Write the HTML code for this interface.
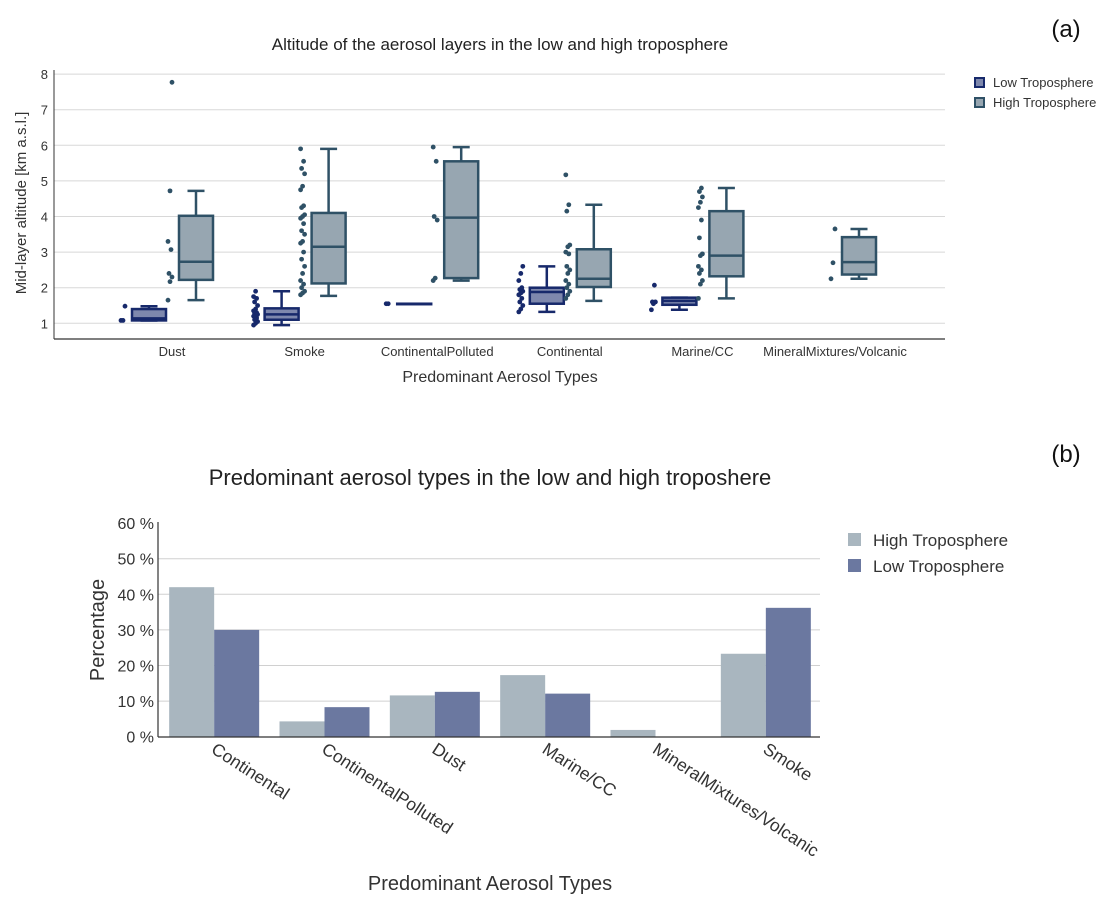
<!DOCTYPE html>
<html><head><meta charset="utf-8"><style>
body{margin:0;background:#fff;}
svg{display:block;font-family:"Liberation Sans",sans-serif;}
</style></head><body>
<svg id="s" width="1118" height="910" viewBox="0 0 1118 910">
<text x="1066" y="37" font-size="24" fill="#111" text-anchor="middle">(a)</text>
<text x="1066" y="462" font-size="24" fill="#111" text-anchor="middle">(b)</text>
<g id="top"></g>
<g id="bot"></g>
</svg>
<script>
// ---------- Chart (a) data ----------
const boxCats = ["Dust","Smoke","ContinentalPolluted","Continental","Marine/CC","MineralMixtures/Volcanic"];
const yTicksA = [1,2,3,4,5,6,7,8];
// [min,q1,median,q3,max] or null
const lowStats = [[1.08,1.08,1.14,1.4,1.48],[0.95,1.1,1.25,1.42,1.9],[1.55,1.55,1.55,1.55,1.55],[1.32,1.55,1.88,2.0,2.6],[1.38,1.52,1.63,1.72,1.72],null];
const highStats = [[1.65,2.22,2.73,4.02,4.72],[1.77,2.12,3.15,4.1,5.9],[2.2,2.27,3.97,5.55,5.95],[1.63,2.02,2.25,3.08,4.33],[1.7,2.32,2.9,4.15,4.8],[2.25,2.37,2.72,3.42,3.65]];
const lowPts = [[1.08,1.08,1.48],[0.95,1.0,1.05,1.1,1.15,1.2,1.22,1.25,1.28,1.3,1.35,1.4,1.5,1.6,1.7,1.75,1.9],[1.55,1.55],[1.32,1.4,1.5,1.6,1.7,1.8,1.85,1.9,1.95,2.0,2.2,2.4,2.6],[1.38,1.55,1.6,1.6,2.07],[]];
const highPts = [[1.65,2.17,2.3,2.4,3.07,3.3,4.72,7.77],[1.8,1.85,1.9,2.0,2.1,2.2,2.4,2.6,2.8,3.0,3.25,3.3,3.5,3.6,3.8,3.95,4.0,4.05,4.25,4.3,4.75,4.85,5.2,5.35,5.55,5.9],[2.2,2.27,3.9,4.0,5.55,5.95],[1.7,1.8,1.9,2.0,2.1,2.2,2.4,2.5,2.6,2.95,3.0,3.15,3.2,4.15,4.33,5.17],[1.7,2.1,2.2,2.4,2.5,2.6,2.9,2.95,3.4,3.9,4.25,4.4,4.55,4.7,4.8],[2.25,2.7,3.65]];

// ---------- Chart (b) data ----------
const barCats = ["Continental","ContinentalPolluted","Dust","Marine/CC","MineralMixtures/Volcanic","Smoke"];
const highVals = [42,4.3,11.6,17.3,1.9,23.3];
const lowVals = [30,8.3,12.6,12.1,0,36.2];
const yTicksB = [0,10,20,30,40,50,60];

const NS="http://www.w3.org/2000/svg";
function mk(p,tag,at,txt){const e=document.createElementNS(NS,tag);for(const k in at)e.setAttribute(k,at[k]);if(txt!==undefined)e.textContent=txt;p.appendChild(e);return e;}

// ---------- draw (a) ----------
const T=document.getElementById('top');
const ax0=54, ax1=945;
const yA=v=>323.3-(v-1)*35.6;
const xA=i=>172+132.6*i;
let t=mk(T,'text',{x:500,y:50,'font-size':17,fill:'#222','text-anchor':'middle'},'Altitude of the aerosol layers in the low and high troposphere');

yTicksA.forEach(v=>{
  let g=mk(T,'line',{x1:ax0,x2:ax1,y1:yA(v),y2:yA(v),stroke:'#d8d8d8','stroke-width':1});
  
  let l=mk(T,'text',{x:ax0-6,y:yA(v)+5,'font-size':13,fill:'#333','text-anchor':'end'},v);
  
});
let a1=mk(T,'line',{x1:ax0,x2:ax0,y1:70,y2:339,stroke:'#333','stroke-width':1});

let a2=mk(T,'line',{x1:ax0,x2:ax1,y1:339,y2:339,stroke:'#333','stroke-width':1.2});

boxCats.forEach((c,i)=>{
  let l=mk(T,'text',{x:xA(i),y:356,'font-size':13,fill:'#333','text-anchor':'middle'},c);
  
});
t=mk(T,'text',{x:500,y:382,'font-size':16,fill:'#333','text-anchor':'middle'},'Predominant Aerosol Types');

t=mk(T,'text',{x:0,y:0,'font-size':15,fill:'#333','text-anchor':'middle',transform:'translate(26,203) rotate(-90)'},'Mid-layer altitude [km a.s.l.]');


function drawBox(st,pts,cx,fill,stroke,name){
  const g=mk(T,'g',{});
  
  const w=34,h=w/2;
  if(st){
    const [mn,q1,md,q3,mx]=st;
    mk(g,'line',{x1:cx,x2:cx,y1:yA(mx),y2:yA(q3),stroke:stroke,'stroke-width':2.5});
    mk(g,'line',{x1:cx,x2:cx,y1:yA(q1),y2:yA(mn),stroke:stroke,'stroke-width':2.5});
    mk(g,'line',{x1:cx-h/2,x2:cx+h/2,y1:yA(mx),y2:yA(mx),stroke:stroke,'stroke-width':2.5});
    mk(g,'line',{x1:cx-h/2,x2:cx+h/2,y1:yA(mn),y2:yA(mn),stroke:stroke,'stroke-width':2.5});
    mk(g,'rect',{x:cx-h,y:yA(q3),width:w,height:Math.max(yA(q1)-yA(q3),0.5),fill:fill,stroke:stroke,'stroke-width':2.5});
    mk(g,'line',{x1:cx-h,x2:cx+h,y1:yA(md),y2:yA(md),stroke:stroke,'stroke-width':2.5});
  }
  pts.forEach((v,k)=>{
    const jx=cx-h-9+((k*7)%5)-2;
    let p=mk(g,'circle',{cx:jx,cy:yA(v),r:2.4,fill:stroke});
    
  });
}
boxCats.forEach((c,i)=>{
  drawBox(lowStats[i],lowPts[i],xA(i)-23,'#7e88ad','#17296b','low-box-'+i);
  drawBox(highStats[i],highPts[i],xA(i)+24,'#97a6b1','#2f5166','high-box-'+i);
});
[['Low Troposphere','#7e88ad','#17296b',83],['High Troposphere','#97a6b1','#2f5166',103]].forEach(d=>{
  const g=mk(T,'g',{});
  
  mk(g,'rect',{x:975,y:d[3]-5,width:9,height:9,fill:d[1],stroke:d[2],'stroke-width':2});
  mk(g,'text',{x:993,y:d[3]+4,'font-size':13,fill:'#333'},d[0]);
});

// ---------- draw (b) ----------
const B=document.getElementById('bot');
const bx0=158,bx1=820;
const yB=v=>736.7-v*3.56;
const bw=(bx1-bx0)/6;
const xB=i=>bx0+bw*(i+0.5);
t=mk(B,'text',{x:490,y:485,'font-size':22,fill:'#222','text-anchor':'middle'},'Predominant aerosol types in the low and high troposhere');

yTicksB.forEach(v=>{
  if(v>0&&v<60){let g=mk(B,'line',{x1:bx0,x2:bx1,y1:yB(v),y2:yB(v),stroke:'#d0d0d0','stroke-width':1});
  }
  let l=mk(B,'text',{x:bx0-4,y:yB(v)+6,'font-size':16,fill:'#333','text-anchor':'end'},v+' %');
  
});
barCats.forEach((c,i)=>{
  let r=mk(B,'rect',{x:xB(i)-44,y:yB(highVals[i]),width:45,height:yB(0)-yB(highVals[i]),fill:'#a9b6bf'});
  
  r=mk(B,'rect',{x:xB(i)+1,y:yB(lowVals[i]),width:45,height:yB(0)-yB(lowVals[i]),fill:'#6b78a0'});
  
  let l=mk(B,'text',{x:0,y:0,'font-size':17.5,fill:'#333',transform:'translate('+(xB(i)-3)+',752) rotate(33)'},c);
  
});
a1=mk(B,'line',{x1:bx0,x2:bx0,y1:522,y2:737,stroke:'#333','stroke-width':1.2});

a2=mk(B,'line',{x1:bx0,x2:bx1,y1:737,y2:737,stroke:'#333','stroke-width':1.2});

t=mk(B,'text',{x:490,y:890,'font-size':20,fill:'#333','text-anchor':'middle'},'Predominant Aerosol Types');

t=mk(B,'text',{x:0,y:0,'font-size':20,fill:'#333','text-anchor':'middle',transform:'translate(104,630) rotate(-90)'},'Percentage');

[['High Troposphere','#a9b6bf',540],['Low Troposphere','#6b78a0',566]].forEach(d=>{
  const g=mk(B,'g',{});
  
  mk(g,'rect',{x:848,y:d[2]-7,width:13,height:13,fill:d[1]});
  mk(g,'text',{x:873,y:d[2]+6,'font-size':17,fill:'#333'},d[0]);
});
</script>
</body></html>
